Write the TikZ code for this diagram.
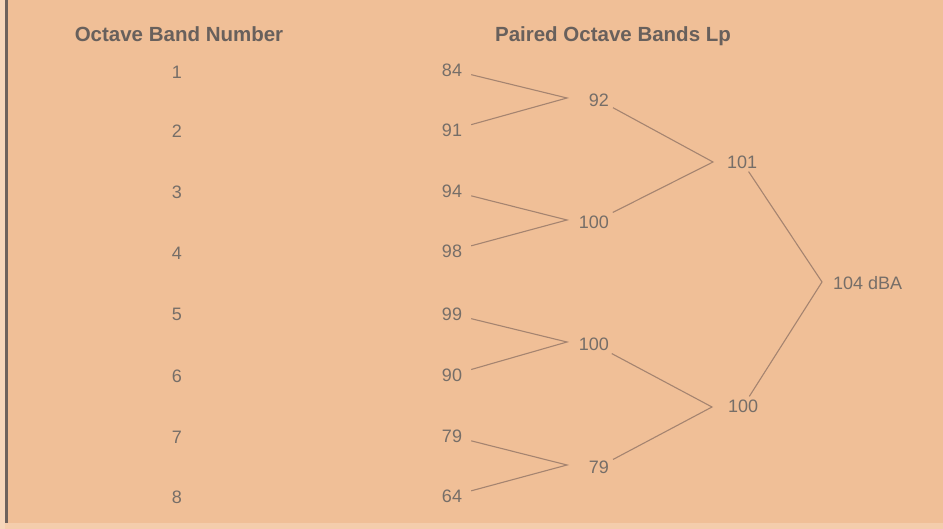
\documentclass[tikz,border=0pt]{standalone}
\usepackage{fontspec}
\setmainfont{Liberation Sans}
\definecolor{paper}{RGB}{240,191,151}
\definecolor{edgestrip}{RGB}{246,214,186}
\definecolor{rulecol}{RGB}{110,98,92}
\definecolor{hdrcol}{RGB}{104,96,92}
\definecolor{numcol}{RGB}{118,110,104}
\definecolor{linecol}{RGB}{165,132,112}
\begin{document}
\begin{tikzpicture}[x=1pt, y=-1pt,
  hdr/.style={font=\bfseries\fontsize{20.5}{24}\selectfont, text=hdrcol, inner sep=0pt, text depth=0pt},
  num/.style={font=\fontsize{18}{21}\selectfont, text=numcol, inner sep=0pt},
  val/.style={num, inner xsep=9pt, inner ysep=3pt},
  sumlab/.style={num, inner xsep=4pt, inner ysep=3pt},
  link/.style={draw=linecol, line width=1.1pt}]

% page
\fill[paper] (0,0) rectangle (943,529);
\useasboundingbox (0,0) rectangle (943,529);
\fill[edgestrip] (0,0) rectangle (5,529);
\fill[edgestrip!60!paper] (5,523) rectangle (943,529);
\draw[rulecol, line width=2.2pt] (6.5,0) -- (6.5,523);

% headings
\node[hdr] (hdrA) at (179,34) {Octave Band Number};
\node[hdr] (hdrB) at (613,34) {Paired Octave Bands Lp};

% octave band numbers
\node[num] (b1) at (177,72)  {1};
\node[num] (b2) at (177,131) {2};
\node[num] (b3) at (177,192) {3};
\node[num] (b4) at (177,253) {4};
\node[num] (b5) at (177,314) {5};
\node[num] (b6) at (177,376) {6};
\node[num] (b7) at (177,437) {7};
\node[num] (b8) at (177,497) {8};

% band levels
\node[val] (v1) at (452,70)  {84};
\node[val] (v2) at (452,130) {91};
\node[val] (v3) at (452,191) {94};
\node[val] (v4) at (452,251) {98};
\node[val] (v5) at (452,314) {99};
\node[val] (v6) at (452,375) {90};
\node[val] (v7) at (452,436) {79};
\node[val] (v8) at (452,496) {64};

% junctions of the pairing tree
\coordinate (j12) at (567,98);
\coordinate (j34) at (567,220);
\coordinate (j56) at (567,342);
\coordinate (j78) at (567,465);
\coordinate (j1234) at (713,162);
\coordinate (j5678) at (712,407);
\coordinate (jall) at (822,282);

% first combination
\node[sumlab, anchor=east] (s12) at (613,100) {92};
\node[sumlab, anchor=east] (s34) at (613,222) {100};
\node[sumlab, anchor=east] (s56) at (613,344) {100};
\node[sumlab, anchor=east] (s78) at (613,467) {79};

% second combination
\node[sumlab, anchor=west] (s1234) at (723,162) {101};
\node[sumlab, anchor=west] (s5678) at (724,406) {100};

% total
\node[sumlab, anchor=west] (total) at (829,283) {104 dBA};

% connectors
\draw[link] (v1) -- (j12) -- (v2);
\draw[link] (v3) -- (j34) -- (v4);
\draw[link] (v5) -- (j56) -- (v6);
\draw[link] (v7) -- (j78) -- (v8);
\draw[link] (s12) -- (j1234) -- (s34);
\draw[link] (s56) -- (j5678) -- (s78);
\draw[link] (s1234) -- (jall) -- (s5678);
\end{tikzpicture}
\end{document}
